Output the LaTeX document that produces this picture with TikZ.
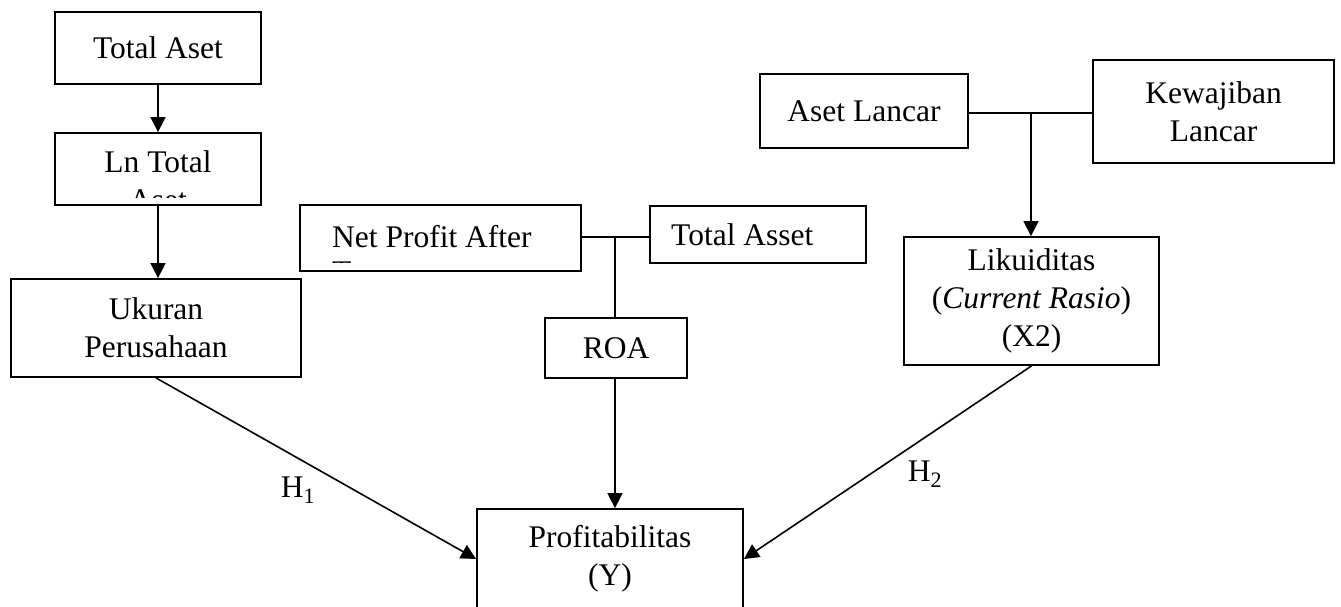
\documentclass[tikz,border=0pt]{standalone}
\usepackage{fontspec}
\setmainfont{Liberation Serif}
\usetikzlibrary{arrows.meta,calc}
\newcommand\fsz{\fontsize{31.5}{38}\selectfont}
\begin{document}
\begin{tikzpicture}[x=1pt,y=-1pt,
  box/.style={draw, line width=1.8pt, inner sep=0pt, align=center, font=\fsz},
  txt/.style={inner sep=0pt, font=\fsz},
  arr/.style={line width=1.6pt, -{Triangle[length=15pt,width=15pt]}},
  conn/.style={line width=1.6pt}]
\useasboundingbox (0,0) rectangle (1341,606);

% left column
\node[box, minimum width=206pt, minimum height=72pt] (tasset) at (158,48) {Total Aset};
\node[box, minimum width=206pt, minimum height=72pt] (lnbox) at (158,169) {};
\begin{scope}
  \clip (56,134) rectangle (260,197);
  \node[txt, anchor=base] (lnt1) at (158,172) {Ln Total};
  \node[txt, anchor=base] (lnt2) at (158,210) {Aset};
\end{scope}
\node[box, minimum width=290pt, minimum height=98pt] (ukuran) at (156,328) {Ukuran\\Perusahaan};

% middle column
\node[box, minimum width=281pt, minimum height=66pt] (npat) at (440.5,238) {};
\begin{scope}
  \clip (301,206) rectangle (580,262);
  \node[txt, anchor=base west] (np1) at (332,247) {Net Profit After};
  \node[txt, anchor=base west] (np2) at (332,282) {Tax};
\end{scope}
\node[box, minimum width=216pt, minimum height=57pt] (tasset2) at (758,234.5) {};
\node[txt, anchor=base west] (ta2t) at (671,245) {Total Asset};
\node[box, minimum width=142pt, minimum height=60pt] (roa) at (616,348) {ROA};
\node[box, minimum width=266pt, minimum height=100pt] (prof) at (610,559) {Profitabilitas\\(Y)};

% right column
\node[box, minimum width=208pt, minimum height=74pt] (al) at (864,111) {Aset Lancar};
\node[box, minimum width=241pt, minimum height=103pt] (kl) at (1213.5,111.5) {Kewajiban\\Lancar};
\node[box, minimum width=255pt, minimum height=128pt] (lik) at (1031.5,301) {Likuiditas\\(\textit{Current Rasio})\\(X2)};

% connectors
\draw[arr] (tasset.south) -- (lnbox.north);
\draw[arr] (lnbox.south) -- (lnbox.south |- ukuran.north);
\coordinate (j1) at (615,237);
\draw[conn] (npat.east |- j1) -- (tasset2.west |- j1);
\draw[conn] (j1) -- (j1 |- roa.north);
\draw[arr] (j1 |- roa.south) -- (j1 |- prof.north);
\coordinate (j2) at (1031,113);
\draw[conn] (al.east |- j2) -- (kl.west |- j2);
\draw[arr] (j2) -- (j2 |- lik.north);
\draw[arr] (ukuran.south) -- (prof.west);
\draw[arr] (lik.south) -- (prof.east);

% labels
\node[txt] (h1) at (298,490) {H\textsubscript{1}};
\node[txt] (h2) at (925,474) {H\textsubscript{2}};
\end{tikzpicture}
\end{document}
